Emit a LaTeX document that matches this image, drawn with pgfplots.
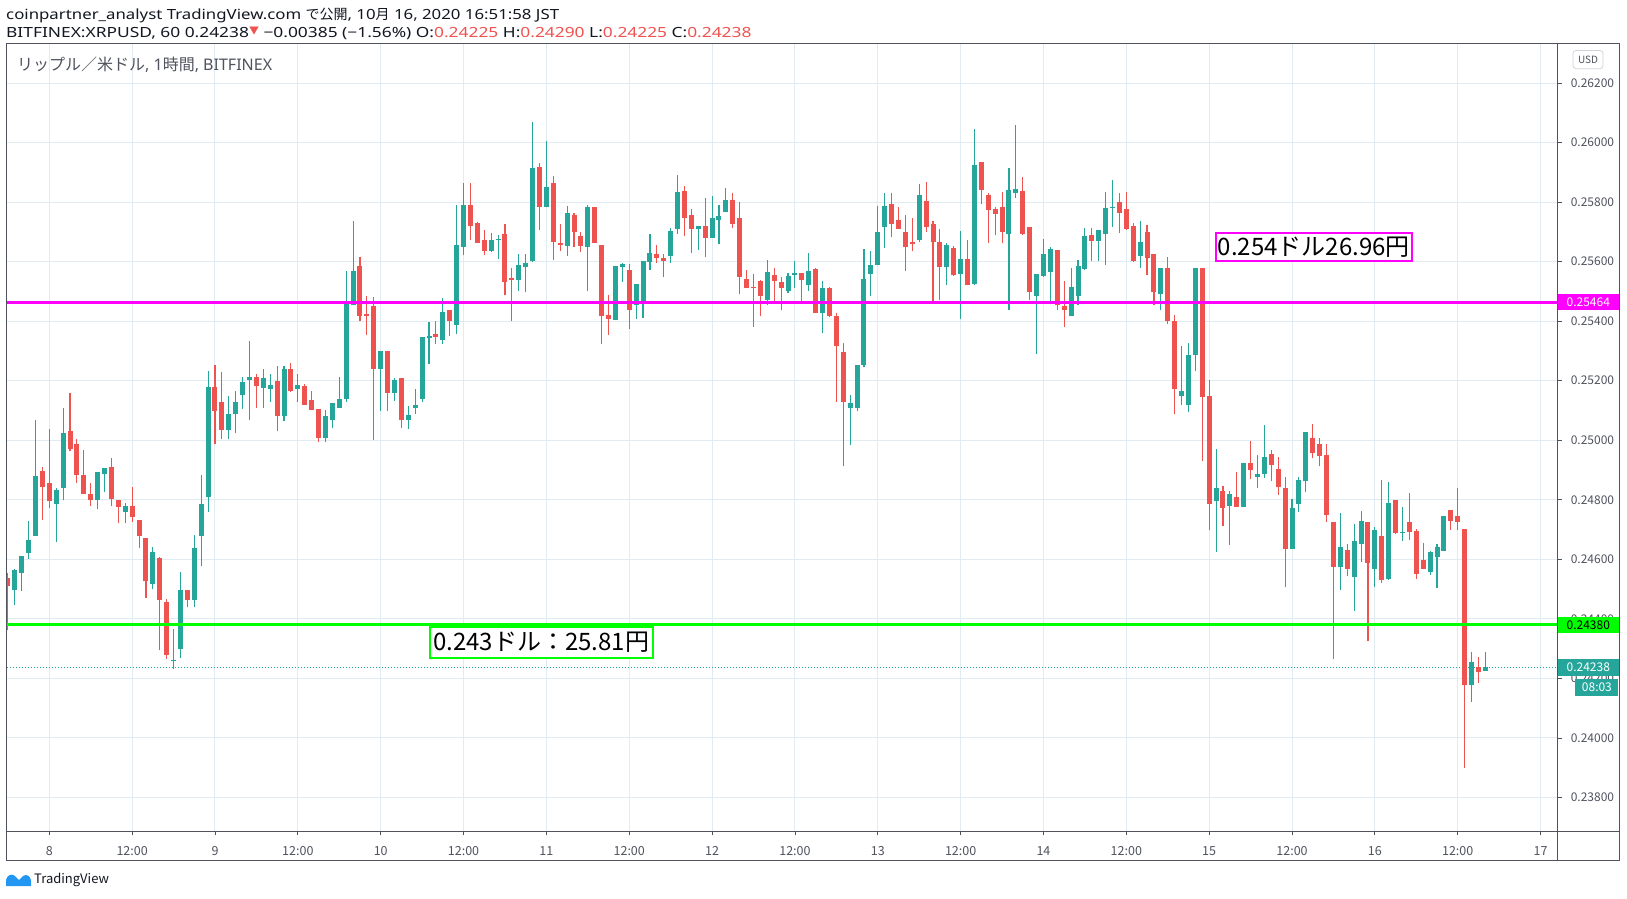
\documentclass[border=0pt]{standalone}
\usepackage{fontspec}
\setmainfont{Noto Sans}
\newfontfamily\jp{Noto Sans CJK JP}
\newfontfamily\hdr[FakeStretch=1.2]{Noto Sans}
\newfontfamily\hdrb[FakeStretch=1.24]{Noto Sans}
\usepackage{pgfplots}
\pgfplotsset{compat=1.18}
\usepackage{pgfplotstable}
\definecolor{up}{HTML}{26A69A}
\definecolor{dn}{HTML}{EF5350}
\definecolor{gridc}{HTML}{E1ECF2}
\definecolor{framec}{HTML}{50535E}
\definecolor{txt}{HTML}{131722}
\definecolor{lbl}{HTML}{50535E}
\definecolor{mag}{HTML}{FF00FF}
\definecolor{lime}{HTML}{00FF00}
\definecolor{tvblue}{HTML}{2196F3}
\definecolor{usdb}{HTML}{D1D4DC}

\pgfplotstableread{
h o hi lo c
-6 0.24537 0.24554 0.24361 0.24511
-5 0.24496 0.24568 0.24448 0.24565
-4 0.24553 0.24612 0.24492 0.24612
-3 0.24620 0.24730 0.24602 0.24666
-2 0.24680 0.25069 0.24680 0.24881
-1 0.24898 0.24909 0.24733 0.24842
0 0.24857 0.25039 0.24771 0.24795
1 0.24785 0.24841 0.24657 0.24834
2 0.24838 0.25109 0.24798 0.25025
3 0.25032 0.25160 0.24963 0.24972
4 0.24988 0.25005 0.24858 0.24882
5 0.24884 0.24968 0.24818 0.24818
6 0.24820 0.24857 0.24778 0.24798
7 0.24798 0.24894 0.24768 0.24894
8 0.24885 0.24908 0.24825 0.24908
9 0.24911 0.24941 0.24778 0.24801
10 0.24798 0.24800 0.24721 0.24775
11 0.24758 0.24789 0.24721 0.24780
12 0.24780 0.24844 0.24727 0.24741
13 0.24733 0.24733 0.24637 0.24680
14 0.24673 0.24673 0.24469 0.24526
15 0.24516 0.24642 0.24499 0.24626
16 0.24605 0.24609 0.24295 0.24462
17 0.24458 0.24468 0.24265 0.24277
18 0.24258 0.24366 0.24231 0.24262
19 0.24298 0.24558 0.24270 0.24498
20 0.24498 0.24498 0.24439 0.24465
21 0.24465 0.24683 0.24439 0.24639
22 0.24680 0.24884 0.24576 0.24787
23 0.24811 0.25234 0.24758 0.25180
24 0.25180 0.25252 0.24986 0.25097
25 0.25130 0.25228 0.25003 0.25036
26 0.25036 0.25147 0.25003 0.25087
27 0.25087 0.25164 0.25023 0.25130
28 0.25151 0.25211 0.25104 0.25194
29 0.25204 0.25332 0.25067 0.25214
30 0.25214 0.25224 0.25110 0.25181
31 0.25177 0.25241 0.25107 0.25208
32 0.25171 0.25224 0.25127 0.25184
33 0.25198 0.25251 0.25030 0.25080
34 0.25080 0.25251 0.25063 0.25241
35 0.25238 0.25261 0.25161 0.25164
36 0.25171 0.25221 0.25130 0.25184
37 0.25181 0.25188 0.25120 0.25120
38 0.25134 0.25167 0.25100 0.25100
39 0.25104 0.25104 0.24995 0.25007
40 0.25006 0.25100 0.24995 0.25083
41 0.25067 0.25124 0.25040 0.25124
42 0.25110 0.25214 0.25107 0.25140
43 0.25137 0.25567 0.25127 0.25466
44 0.25453 0.25738 0.25453 0.25570
45 0.25584 0.25614 0.25399 0.25416
46 0.25423 0.25486 0.25352 0.25416
47 0.25450 0.25480 0.25000 0.25241
48 0.25240 0.25299 0.25099 0.25299
49 0.25299 0.25299 0.25099 0.25159
50 0.25159 0.25209 0.25132 0.25202
51 0.25209 0.25209 0.25042 0.25068
52 0.25068 0.25115 0.25039 0.25085
53 0.25109 0.25173 0.25089 0.25119
54 0.25139 0.25346 0.25129 0.25346
55 0.25343 0.25398 0.25257 0.25349
56 0.25356 0.25400 0.25324 0.25346
57 0.25337 0.25477 0.25324 0.25430
58 0.25437 0.25437 0.25349 0.25400
59 0.25386 0.25789 0.25356 0.25655
60 0.25648 0.25863 0.25622 0.25789
61 0.25789 0.25863 0.25672 0.25719
62 0.25729 0.25732 0.25662 0.25662
63 0.25672 0.25706 0.25622 0.25635
64 0.25635 0.25695 0.25632 0.25672
65 0.25673 0.25689 0.25608 0.25675
66 0.25692 0.25726 0.25487 0.25531
67 0.25544 0.25578 0.25400 0.25538
68 0.25538 0.25625 0.25501 0.25588
69 0.25581 0.25625 0.25497 0.25595
70 0.25601 0.26068 0.25598 0.25914
71 0.25917 0.25931 0.25706 0.25783
72 0.25783 0.26004 0.25783 0.25850
73 0.25863 0.25887 0.25606 0.25666
74 0.25662 0.25726 0.25636 0.25656
75 0.25653 0.25786 0.25619 0.25763
76 0.25756 0.25763 0.25650 0.25699
77 0.25685 0.25699 0.25633 0.25653
78 0.25650 0.25789 0.25501 0.25783
79 0.25783 0.25783 0.25663 0.25663
80 0.25655 0.25655 0.25324 0.25418
81 0.25420 0.25487 0.25354 0.25408
82 0.25404 0.25585 0.25404 0.25585
83 0.25582 0.25595 0.25532 0.25591
84 0.25571 0.25591 0.25374 0.25438
85 0.25455 0.25524 0.25408 0.25524
86 0.25468 0.25601 0.25411 0.25601
87 0.25599 0.25692 0.25572 0.25628
88 0.25625 0.25655 0.25596 0.25613
89 0.25612 0.25625 0.25549 0.25603
90 0.25619 0.25712 0.25596 0.25702
91 0.25710 0.25890 0.25693 0.25833
92 0.25837 0.25853 0.25686 0.25747
93 0.25756 0.25776 0.25629 0.25710
94 0.25708 0.25721 0.25638 0.25721
95 0.25721 0.25815 0.25614 0.25681
96 0.25681 0.25821 0.25681 0.25747
97 0.25741 0.25791 0.25658 0.25754
98 0.25768 0.25848 0.25768 0.25808
99 0.25808 0.25831 0.25712 0.25728
100 0.25747 0.25801 0.25490 0.25547
101 0.25542 0.25573 0.25510 0.25510
102 0.25516 0.25559 0.25382 0.25510
103 0.25536 0.25539 0.25416 0.25486
104 0.25470 0.25606 0.25453 0.25566
105 0.25556 0.25579 0.25466 0.25534
106 0.25532 0.25549 0.25436 0.25513
107 0.25503 0.25563 0.25493 0.25553
108 0.25556 0.25603 0.25513 0.25563
109 0.25563 0.25563 0.25466 0.25537
110 0.25523 0.25630 0.25503 0.25569
111 0.25576 0.25579 0.25429 0.25429
112 0.25429 0.25536 0.25359 0.25512
113 0.25512 0.25516 0.25413 0.25419
114 0.25419 0.25429 0.25130 0.25315
115 0.25297 0.25327 0.24912 0.25127
116 0.25107 0.25152 0.24983 0.25124
117 0.25110 0.25254 0.25097 0.25254
118 0.25254 0.25644 0.25245 0.25540
119 0.25558 0.25637 0.25484 0.25590
120 0.25588 0.25788 0.25588 0.25701
121 0.25716 0.25829 0.25645 0.25788
122 0.25792 0.25832 0.25682 0.25726
123 0.25741 0.25782 0.25709 0.25709
124 0.25698 0.25758 0.25568 0.25648
125 0.25667 0.25745 0.25635 0.25658
126 0.25672 0.25862 0.25665 0.25825
127 0.25805 0.25866 0.25699 0.25716
128 0.25728 0.25738 0.25457 0.25665
129 0.25667 0.25708 0.25470 0.25581
130 0.25581 0.25664 0.25521 0.25655
131 0.25645 0.25652 0.25551 0.25554
132 0.25558 0.25704 0.25407 0.25610
133 0.25610 0.25674 0.25521 0.25521
134 0.25526 0.26044 0.25521 0.25923
135 0.25936 0.25936 0.25792 0.25840
136 0.25825 0.25829 0.25664 0.25775
137 0.25778 0.25785 0.25688 0.25761
138 0.25782 0.25835 0.25661 0.25701
139 0.25692 0.25916 0.25436 0.25842
140 0.25829 0.26060 0.25815 0.25845
141 0.25838 0.25885 0.25690 0.25694
142 0.25717 0.25717 0.25470 0.25497
143 0.25486 0.25559 0.25291 0.25559
144 0.25553 0.25677 0.25549 0.25626
145 0.25566 0.25650 0.25456 0.25643
146 0.25640 0.25640 0.25436 0.25453
147 0.25452 0.25536 0.25382 0.25436
148 0.25416 0.25579 0.25416 0.25516
149 0.25486 0.25606 0.25453 0.25586
150 0.25576 0.25714 0.25573 0.25687
151 0.25690 0.25714 0.25603 0.25670
152 0.25670 0.25707 0.25603 0.25707
153 0.25694 0.25835 0.25589 0.25781
154 0.25781 0.25875 0.25717 0.25783
155 0.25801 0.25831 0.25697 0.25764
156 0.25778 0.25835 0.25707 0.25710
157 0.25721 0.25731 0.25600 0.25603
158 0.25620 0.25737 0.25579 0.25667
159 0.25700 0.25724 0.25556 0.25613
160 0.25626 0.25626 0.25453 0.25497
161 0.25490 0.25579 0.25436 0.25579
162 0.25579 0.25616 0.25392 0.25399
163 0.25400 0.25420 0.25087 0.25171
164 0.25148 0.25315 0.25118 0.25164
165 0.25118 0.25328 0.25094 0.25288
166 0.25286 0.25580 0.25232 0.25580
167 0.25580 0.25580 0.24930 0.25145
168 0.25147 0.25203 0.24698 0.24785
169 0.24795 0.24969 0.24624 0.24838
170 0.24828 0.24848 0.24711 0.24772
171 0.24779 0.24831 0.24648 0.24821
172 0.24811 0.24895 0.24775 0.24775
173 0.24775 0.24922 0.24775 0.24922
174 0.24922 0.24999 0.24869 0.24899
175 0.24876 0.24949 0.24839 0.24885
176 0.24885 0.25050 0.24873 0.24945
177 0.24955 0.24966 0.24863 0.24916
178 0.24905 0.24945 0.24816 0.24842
179 0.24841 0.24878 0.24506 0.24634
180 0.24634 0.24801 0.24634 0.24774
181 0.24785 0.24878 0.24758 0.24865
182 0.24863 0.25029 0.24826 0.25029
183 0.25006 0.25053 0.24940 0.24957
184 0.24986 0.25009 0.24913 0.24947
185 0.24952 0.24989 0.24725 0.24748
186 0.24727 0.24727 0.24265 0.24574
187 0.24574 0.24755 0.24497 0.24641
188 0.24632 0.24652 0.24545 0.24566
189 0.24539 0.24719 0.24428 0.24662
190 0.24650 0.24763 0.24592 0.24729
191 0.24726 0.24726 0.24324 0.24589
192 0.24569 0.24709 0.24508 0.24699
193 0.24679 0.24867 0.24519 0.24529
194 0.24535 0.24860 0.24532 0.24789
195 0.24800 0.24800 0.24686 0.24690
196 0.24690 0.24776 0.24663 0.24692
197 0.24726 0.24823 0.24666 0.24693
198 0.24695 0.24702 0.24535 0.24552
199 0.24598 0.24655 0.24566 0.24569
200 0.24559 0.24628 0.24549 0.24625
201 0.24609 0.24652 0.24505 0.24642
202 0.24629 0.24746 0.24629 0.24746
203 0.24766 0.24766 0.24700 0.24729
204 0.24746 0.24840 0.24700 0.24726
205 0.24702 0.24702 0.23900 0.24178
206 0.24178 0.24288 0.24122 0.24254
207 0.24237 0.24271 0.24184 0.24220
208 0.24225 0.24290 0.24225 0.24238
}\candles

\pgfplotsset{
  candle/.style={only marks, mark=*, mark size=0pt, mark options={draw=none, fill=none}, forget plot,
    error bars/y dir=plus, error bars/y explicit, error bars/error mark=none},
}

\begin{document}
\begin{tikzpicture}[x=1pt,y=1pt]
\useasboundingbox (0,0) rectangle (1627,898);
\fill[white] (0,0) rectangle (1627,898);
\begin{axis}[
  at={(6.7pt,66.6pt)}, anchor=south west,
  scale only axis, width=1550.9pt, height=787.6pt,
  xmin=-6.17, xmax=218.47, ymin=0.236861, ymax=0.263317,
  axis line style={draw=framec, line width=1pt},
  grid=major, major grid style={draw=gridc, line width=1pt},
  xtick={0,12,...,216},
  xticklabels={8,12:00,9,12:00,10,12:00,11,12:00,12,12:00,13,12:00,14,12:00,15,12:00,16,12:00,17},
  ytick={0.238,0.24,0.242,0.244,0.246,0.248,0.25,0.252,0.254,0.256,0.258,0.26,0.262},
  scaled y ticks=false,
  /pgf/number format/.cd, fixed, fixed zerofill, precision=5, assume math mode=true, /pgfplots/.cd,
  tick align=outside, major tick length=4pt,
  tick style={draw=framec, line width=0.8pt},
  xtick pos=left, ytick pos=right, yticklabel pos=right,
  xticklabel style={font=\jp\fontsize{12.5}{14}\selectfont, text=lbl, anchor=base, yshift=-20pt},
  yticklabel style={font=\jp\fontsize{12}{14}\selectfont, text=lbl, anchor=west, inner sep=0pt, xshift=9pt},
]
% current price dotted line
\addplot[up, line width=1pt, dash pattern=on 1pt off 2pt, forget plot] coordinates {(-6.17,0.24238) (218.47,0.24238)};
% wicks
\addplot[candle, restrict expr to domain={\thisrow{c}-\thisrow{o}}{0:1}, error bars/error bar style={draw=up, line width=1.1pt}]
  table[x=h, y=lo, y error expr=\thisrow{hi}-\thisrow{lo}] {\candles};
\addplot[candle, restrict expr to domain={\thisrow{c}-\thisrow{o}}{-1:-0.0000001}, error bars/error bar style={draw=dn, line width=1.1pt}]
  table[x=h, y=lo, y error expr=\thisrow{hi}-\thisrow{lo}] {\candles};
% bodies
\addplot[candle, restrict expr to domain={\thisrow{c}-\thisrow{o}}{0:1}, error bars/error bar style={draw=up, line width=5pt}]
  table[x=h, y=o, y error expr={max(\thisrow{c}-\thisrow{o},0.00003)}] {\candles};
\addplot[candle, restrict expr to domain={\thisrow{c}-\thisrow{o}}{-1:-0.0000001}, error bars/error bar style={draw=dn, line width=5pt}]
  table[x=h, y=c, y error expr={max(\thisrow{o}-\thisrow{c},0.00003)}] {\candles};
% horizontal level lines
\addplot[mag, line width=3pt, forget plot] coordinates {(-6.17,0.25464) (218.47,0.25464)};
\addplot[lime, line width=3pt, forget plot] coordinates {(-6.17,0.2438) (218.47,0.2438)};
\end{axis}
% frame
\draw[framec, line width=1pt] (6.7,38) -- (6.7,854.2) -- (1619,854.2) -- (1619,38) -- cycle;
\draw[framec, line width=1pt] (1557.6,38) -- (1557.6,854.2);
\draw[framec, line width=1pt] (6.7,66.6) -- (1619,66.6);
% price labels
\node[fill=mag, text=white, anchor=west, minimum width=61pt, minimum height=16pt, inner sep=0pt, font=\jp\fontsize{12}{14}\selectfont] at (1557.6,595.9) {0.25464};
\node[fill=lime, text=black, anchor=west, minimum width=61pt, minimum height=16pt, inner sep=0pt, font=\jp\fontsize{12}{14}\selectfont] at (1557.6,273.2) {0.24380};
\node[fill=up, text=white, anchor=west, minimum width=61pt, minimum height=17pt, inner sep=0pt, font=\jp\fontsize{12}{14}\selectfont] at (1557.6,230.9) {0.24238};
\node[fill=up, text=white, anchor=east, minimum width=43pt, minimum height=17pt, inner sep=0pt, font=\jp\fontsize{12}{14}\selectfont] at (1618.6,210.5) {08:03};
% USD
\draw[usdb, rounded corners=3pt, line width=0.8pt] (1573,829.3) rectangle (1603,847.5);
\node[text=lbl, font=\jp\fontsize{10}{12}\selectfont] at (1588,838.4) {USD};
% annotations
\draw[mag, line width=2pt, fill=white] (1215.7,637) rectangle (1412,665);
\node[text=black, font=\jp\fontsize{24}{28}\selectfont] at (1313.8,651) {0.254ドル26.96円};
\draw[lime, line width=2pt, fill=white] (430,240) rectangle (652.5,271.4);
\node[text=black, font=\jp\fontsize{24}{28}\selectfont] at (541.2,255.7) {0.243ドル：25.81円};
% header
\node[anchor=base west, inner sep=0pt, text=txt, font=\hdr\fontsize{14}{17}\selectfont] at (6,878.1) {coinpartner\_analyst TradingView.com {\jp で公開}, 10{\jp 月} 16, 2020 16:51:58 JST};
\node[anchor=base west, inner sep=0pt, text=txt, font=\hdrb\fontsize{14}{17}\selectfont] at (6,860.3) {BITFINEX:XRPUSD, 60 0.24238{\color{dn}\jp\fontsize{10}{10}\selectfont\raisebox{3pt}{▼}} −0.00385 (−1.56\%) O:{\color{dn}0.24225} H:{\color{dn}0.24290} L:{\color{dn}0.24225} C:{\color{dn}0.24238}};
\node[anchor=base west, inner sep=0pt, text=lbl, font=\fontsize{16}{19}\selectfont] at (17,827.8) {{\jp リップル／米ドル}, 1{\jp 時間}, BITFINEX};
% TradingView logo
\fill[tvblue] (6,12) -- (6,18) .. controls (7,23) and (12,25) .. (15,22) -- (19,18) -- (23,22) .. controls (27,25) and (31,21) .. (31,17) -- (31,12) -- cycle;
\node[anchor=base west, inner sep=0pt, text=txt, font=\jp\fontsize{13}{15}\selectfont] at (34,15) {TradingView};
\end{tikzpicture}
\end{document}
